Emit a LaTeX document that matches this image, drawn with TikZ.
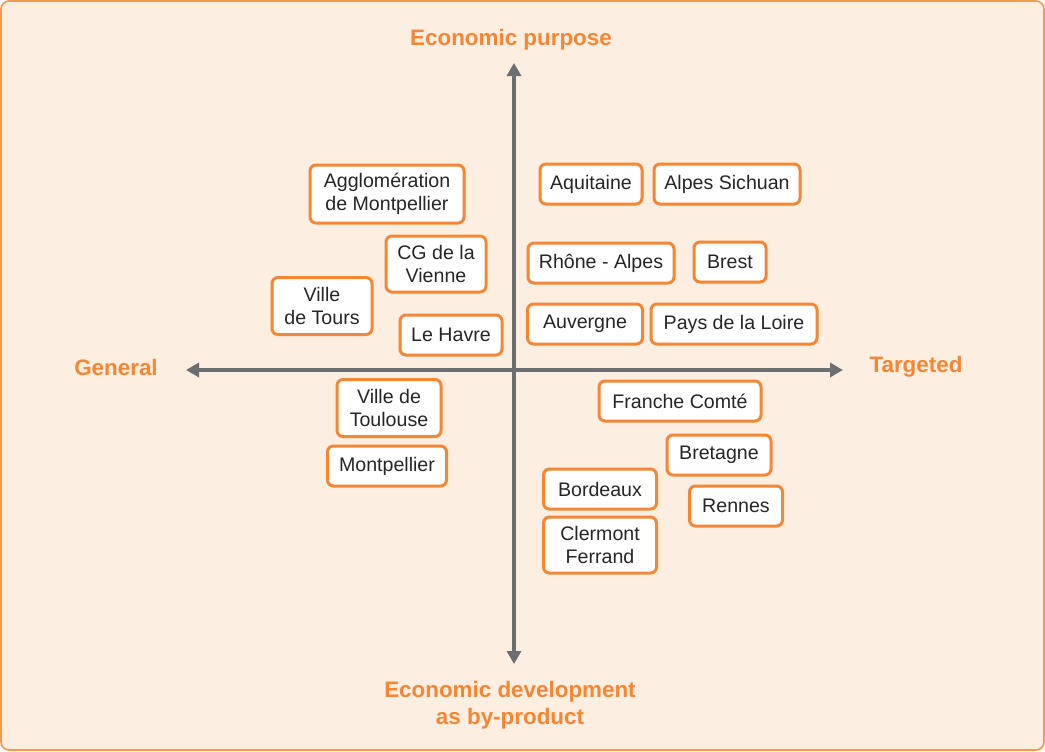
\documentclass[tikz,border=0pt]{standalone}
\usepackage{fontspec}
\setmainfont{Liberation Sans}
\usepackage{tikz}
\usetikzlibrary{arrows.meta}

\definecolor{boxorange}{HTML}{F58634}
\definecolor{axisgray}{HTML}{6D6E71}
\definecolor{paper}{HTML}{FDEEE2}

\begin{document}
\begin{tikzpicture}[x=0.5pt,y=-0.5pt]
  \tikzstyle{every node}=[]
  \tikzstyle{region}=[draw=boxorange,line width=1.5pt,fill=white,rounded corners=3pt,
    align=center,inner xsep=5pt,minimum height=20pt,
    font=\fontsize{9.8}{11.2}\selectfont,text=black!85]
  \tikzstyle{axislabel}=[align=center,text=boxorange,
    font=\fontsize{11.2}{13.5}\selectfont\bfseries]
  \tikzstyle{axis}=[draw=axisgray,line width=2pt,
    {Triangle[width=7pt,length=6.5pt]}-{Triangle[width=7pt,length=6.5pt]}]
  % background
  \useasboundingbox (0,0) rectangle (1045,751);
  \draw[draw=boxorange!85,line width=0.8pt,fill=paper,rounded corners=4pt]
    (1,1) rectangle (1044,750);
  % axes
  \coordinate (top) at (514,63);
  \coordinate (bottom) at (514,664);
  \coordinate (left) at (186,370);
  \coordinate (right) at (843,370);
  \path[axis] (top) -- (bottom);
  \path[axis] (left) -- (right);
  \node[axislabel] (purpose) at (511,40) {Economic purpose};
  \node[axislabel] (byproduct) at (510,705) {Economic development\\as by-product};
  \node[axislabel] (general) at (116,367) {General};
  \node[axislabel] (targeted) at (916,367) {Targeted};
  % general side
  \node[region,minimum width=77pt,minimum height=29pt] (agglo) at (387,194) {Agglomération\\de Montpellier};
  \node[region,minimum width=50pt,minimum height=28pt] (cg) at (436,264) {CG de la\\Vienne};
  \node[region,minimum width=50pt,minimum height=28.5pt] (tours) at (322,306) {Ville\\de Tours};
  \node[region,minimum width=51pt] (havre) at (451,335) {Le Havre};
  \node[region,minimum width=52pt,minimum height=28.5pt] (toulouse) at (389,408) {Ville de\\Toulouse};
  \node[region,minimum width=59.5pt] (montp) at (387,466) {Montpellier};
  % targeted side
  \node[region,minimum width=51pt] (aquitaine) at (591,184) {Aquitaine};
  \node[region,minimum width=73pt] (sichuan) at (727,184) {Alpes Sichuan};
  \node[region,minimum width=73pt] (rhone) at (601,263) {Rhône - Alpes};
  \node[region,minimum width=36pt] (brest) at (730,262) {Brest};
  \node[region,minimum width=57.5pt] (auvergne) at (585,324) {Auvergne};
  \node[region,minimum width=83pt] (loire) at (734,324) {Pays de la Loire};
  \node[region,minimum width=81pt] (franche) at (680,401) {Franche Comté};
  \node[region,minimum width=52pt] (bretagne) at (719,455) {Bretagne};
  \node[region,minimum width=56.5pt] (bordeaux) at (600,489) {Bordeaux};
  \node[region,minimum width=46.5pt] (rennes) at (736,506) {Rennes};
  \node[region,minimum width=56.5pt,minimum height=28pt] (clermont) at (600,545) {Clermont\\Ferrand};
\end{tikzpicture}
\end{document}
